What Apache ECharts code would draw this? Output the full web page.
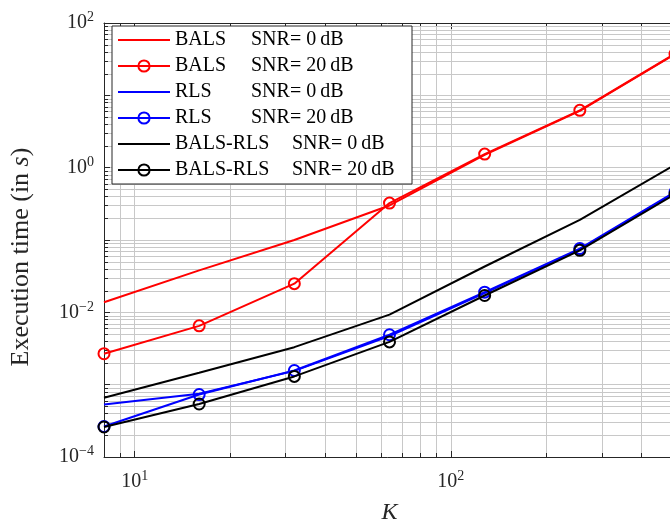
<!DOCTYPE html>
<html>
<head>
<meta charset="utf-8">
<script src="https://cdn.jsdelivr.net/npm/echarts@6/dist/echarts.min.js"></script>
<style>
  html, body { margin: 0; padding: 0; background: #fff; overflow: hidden; }
  #chart { width: 670px; height: 525px; }
</style>
</head>
<body>
<div id="chart"></div>
<script>
// Problem size K (x axis)
const K = [8, 16, 32, 64, 128, 256, 512];

// Execution time in seconds for each method / noise level
const balsSnr0      = [0.0138, 0.038, 0.100, 0.30, 1.50, 6.1, 37];
const balsSnr20     = [0.00268, 0.0065, 0.0249, 0.324, 1.54, 6.2, 37.5];
const rlsSnr0       = [0.00053, 0.00075, 0.00155, 0.0047, 0.0185, 0.074, 0.45];
const rlsSnr20      = [0.000264, 0.00073, 0.00157, 0.0049, 0.019, 0.076, 0.46];
const balsRlsSnr0   = [0.00066, 0.00146, 0.0033, 0.0093, 0.043, 0.19, 1.1];
const balsRlsSnr20  = [0.00026, 0.00054, 0.0013, 0.0039, 0.0171, 0.072, 0.43];

// Legend texts
const methodNames = ['BALS', 'BALS', 'RLS', 'RLS', 'BALS-RLS', 'BALS-RLS'];
const snrLabels = ['SNR= 0\u2009dB', 'SNR= 20\u2009dB', 'SNR= 0\u2009dB', 'SNR= 20\u2009dB', 'SNR= 0\u2009dB', 'SNR= 20\u2009dB'];

// Log-axis minor grid positions
const xMinorTicks = [9, 20, 30, 40, 50, 60, 70, 80, 90, 200, 300, 400, 500];
const yMinorMultipliers = [2, 3, 4, 5, 6, 7, 8, 9];
const yDecades = [-4, -3, -2, -1, 0, 1];
const yMinorTicks = [];
yDecades.forEach(d => yMinorMultipliers.forEach(m => yMinorTicks.push(m * Math.pow(10, d))));

const FONT = '"Liberation Serif", "DejaVu Serif", serif';
const AXIS_COLOR = '#262626';
const GRID_COLOR = '#c8c8c8';

const seriesDefs = [
  { values: balsSnr0,     color: '#ff0000', marker: false },
  { values: balsSnr20,    color: '#ff0000', marker: true },
  { values: rlsSnr0,      color: '#0000ff', marker: false },
  { values: rlsSnr20,     color: '#0000ff', marker: true },
  { values: balsRlsSnr0,  color: '#000000', marker: false },
  { values: balsRlsSnr20, color: '#000000', marker: true }
];
const legendNames = methodNames.map((m, i) => m + ' ' + snrLabels[i]);

function powerLabel(v, onlyEven) {
  const lg = Math.log10(v);
  const e = Math.round(lg);
  if (Math.abs(lg - e) > 1e-6) return '';
  if (onlyEven && e % 2 !== 0) return '';
  return '{b|10}{e|' + (e < 0 ? '\u2212' : '') + Math.abs(e) + '}';
}

const labelRich = {
  b: { fontFamily: FONT, fontSize: 20, color: AXIS_COLOR },
  e: { fontFamily: FONT, fontSize: 14, color: AXIS_COLOR, padding: [0, 0, 11, 0] }
};

function crisp(v) { return Math.round(v) + 0.5; }

const lineSeries = seriesDefs.map((d, i) => ({
  name: legendNames[i],
  type: 'line',
  data: K.map((k, j) => [k, d.values[j]]),
  symbol: d.marker ? 'circle' : 'none',
  showSymbol: d.marker,
  symbolSize: 11,
  lineStyle: { color: d.color, width: 2 },
  itemStyle: { color: 'rgba(255,255,255,0)', borderColor: d.color, borderWidth: 2 },
  emphasis: { disabled: true },
  z: 3 + i
}));

// Legend entries: plain lines hide the marker of the icon
const legendData = seriesDefs.map((d, i) => d.marker
  ? { name: legendNames[i] }
  : { name: legendNames[i], itemStyle: { opacity: 0, borderWidth: 0, color: 'rgba(0,0,0,0)', borderColor: 'rgba(0,0,0,0)' } });

// Minor grid lines plus short inward ticks on the frame
const minorGridX = {
  type: 'custom',
  silent: true,
  z: 1,
  data: xMinorTicks.map(v => [v, 1]),
  renderItem(params, api) {
    const cs = params.coordSys;
    const x = crisp(api.coord([api.value(0), 1])[0]);
    return {
      type: 'group',
      children: [
        { type: 'line', shape: { x1: x, y1: cs.y, x2: x, y2: cs.y + cs.height }, style: { stroke: GRID_COLOR, lineWidth: 1 } },
        { type: 'line', shape: { x1: x, y1: cs.y + cs.height, x2: x, y2: cs.y + cs.height - 4 }, style: { stroke: AXIS_COLOR, lineWidth: 1 } },
        { type: 'line', shape: { x1: x, y1: cs.y, x2: x, y2: cs.y + 4 }, style: { stroke: AXIS_COLOR, lineWidth: 1 } }
      ]
    };
  }
};
const minorGridY = {
  type: 'custom',
  silent: true,
  z: 1,
  data: yMinorTicks.map(v => [K[0], v]),
  renderItem(params, api) {
    const cs = params.coordSys;
    const y = crisp(api.coord([K[0], api.value(1)])[1]);
    return {
      type: 'group',
      children: [
        { type: 'line', shape: { x1: cs.x, y1: y, x2: cs.x + cs.width, y2: y }, style: { stroke: GRID_COLOR, lineWidth: 1 } },
        { type: 'line', shape: { x1: cs.x, y1: y, x2: cs.x + 4, y2: y }, style: { stroke: AXIS_COLOR, lineWidth: 1 } }
      ]
    };
  }
};

const chart = echarts.init(document.getElementById('chart'), null, { renderer: 'canvas' });
chart.setOption({
  animation: false,
  backgroundColor: '#ffffff',
  grid: { left: 104, right: -5, top: 23, bottom: 68, containLabel: false, outerBoundsMode: 'none' },
  legend: {
    orient: 'vertical',
    left: 112,
    top: 26,
    backgroundColor: '#ffffff',
    borderColor: AXIS_COLOR,
    borderWidth: 1,
    borderRadius: 0,
    padding: [4, 6, 4, 5],
    itemWidth: 52,
    itemHeight: 14,
    itemGap: 6,
    selectedMode: false,
    data: legendData,
    formatter(name) {
      const i = legendNames.indexOf(name);
      const tag = methodNames[i] === 'BALS-RLS' ? 'm' : 'n';
      return '{' + tag + '|' + methodNames[i] + '}{v|' + snrLabels[i] + '}';
    },
    textStyle: {
      fontFamily: FONT,
      fontSize: 20,
      color: '#000',
      lineHeight: 20,
      rich: {
        n: { fontFamily: FONT, fontSize: 20, width: 76, color: '#000' },
        m: { fontFamily: FONT, fontSize: 20, width: 117, color: '#000' },
        v: { fontFamily: FONT, fontSize: 20, width: 114, color: '#000' }
      }
    }
  },
  xAxis: [{
    type: 'log',
    logBase: 10,
    min: 8,
    max: 512,
    name: 'K',
    nameLocation: 'middle',
    nameGap: 44,
    nameTextStyle: { fontFamily: FONT, fontSize: 24, fontStyle: 'italic', color: AXIS_COLOR },
    axisLine: { show: true, lineStyle: { color: AXIS_COLOR, width: 1 } },
    axisTick: { show: true, inside: true, length: 6, lineStyle: { color: AXIS_COLOR } },
    axisLabel: { formatter: v => powerLabel(v, false), rich: labelRich, margin: 12, showMinLabel: true, showMaxLabel: true },
    splitLine: { show: true, lineStyle: { color: GRID_COLOR, width: 1 } }
  }, {
    type: 'log',
    logBase: 10,
    min: 8,
    max: 512,
    position: 'top',
    axisLine: { show: true, lineStyle: { color: AXIS_COLOR, width: 1 } },
    axisTick: { show: true, inside: true, length: 6, lineStyle: { color: AXIS_COLOR } },
    axisLabel: { show: false },
    splitLine: { show: false }
  }],
  yAxis: {
    type: 'log',
    logBase: 10,
    min: 1e-4,
    max: 100,
    name: '{r|Execution time (in }{i|s}{r|)}',
    nameLocation: 'middle',
    nameGap: 70,
    nameTextStyle: {
      padding: [0, 34, 0, 0],
      rich: {
        r: { fontFamily: FONT, fontSize: 26, color: AXIS_COLOR },
        i: { fontFamily: FONT, fontSize: 26, fontStyle: 'italic', color: AXIS_COLOR }
      }
    },
    axisLine: { show: true, lineStyle: { color: AXIS_COLOR, width: 1 } },
    axisTick: { show: true, inside: true, length: 6, lineStyle: { color: AXIS_COLOR } },
    axisLabel: { formatter: v => powerLabel(v, true), rich: labelRich, margin: 10 },
    splitLine: { show: true, lineStyle: { color: GRID_COLOR, width: 1 } }
  },
  series: [minorGridX, minorGridY].concat(lineSeries)
});
</script>
</body>
</html>
